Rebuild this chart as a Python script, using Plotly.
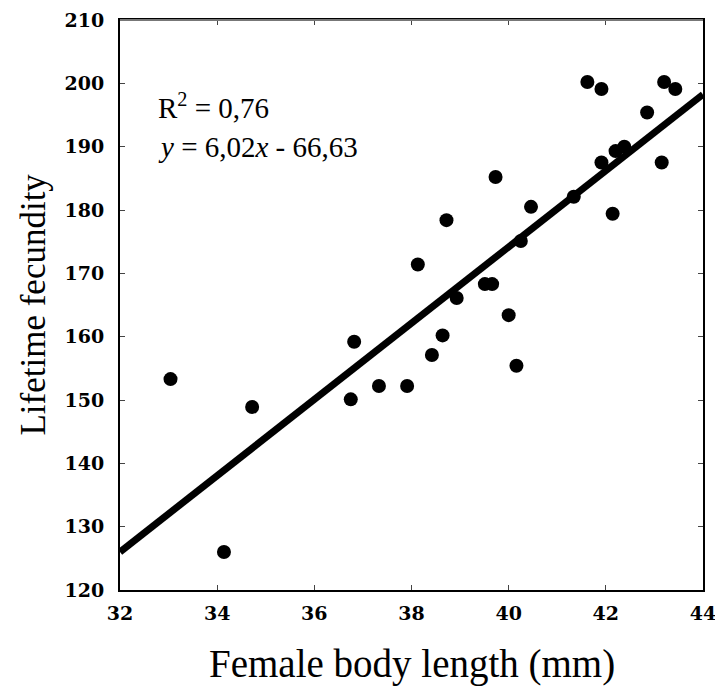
import plotly.graph_objects as go

# Data
body_length = [33.04, 34.14, 34.72, 36.75, 36.82, 37.33, 37.91, 38.13, 38.42, 38.64,
               38.72, 38.93, 39.51, 39.66, 39.73, 40.00, 40.16, 40.25, 40.46, 41.34,
               41.62, 41.91, 41.91, 42.14, 42.20, 42.38, 42.85, 43.15, 43.20, 43.43]
fecundity = [153.3, 126.0, 148.9, 150.1, 159.2, 152.2, 152.2, 171.4, 157.1, 160.2,
             178.4, 166.1, 168.3, 168.3, 185.2, 163.4, 155.4, 175.1, 180.5, 182.1,
             200.2, 199.1, 187.5, 179.4, 189.3, 190.0, 195.4, 187.5, 200.2, 199.1]

slope = 6.02
intercept = -66.63
fit_x = [32, 44]
fit_y = [slope * v + intercept for v in fit_x]

x_ticks = [32, 34, 36, 38, 40, 42, 44]
y_ticks = [120, 130, 140, 150, 160, 170, 180, 190, 200, 210]

fig = go.Figure()
fig.add_trace(go.Scatter(x=fit_x, y=fit_y, mode="lines",
                         line=dict(color="black", width=7), showlegend=False, hoverinfo="skip"))
fig.add_trace(go.Scatter(x=body_length, y=fecundity, mode="markers",
                         marker=dict(color="black", size=14, line=dict(width=0)),
                         showlegend=False))

tick_font = dict(family="DejaVu Serif", size=19, color="black", weight="bold")

fig.update_xaxes(range=[32, 44], tickvals=x_ticks, ticktext=[str(v) for v in x_ticks],
                 showgrid=False, zeroline=False, showline=True, linecolor="black",
                 linewidth=2, mirror="ticks", ticks="inside", ticklen=5, tickwidth=1,
                 tickcolor="#444", tickfont=tick_font, automargin=False,
                 ticklabelstandoff=5, ticklabeloverflow="allow")
fig.update_yaxes(range=[120, 210], tickvals=y_ticks, ticktext=[str(v) for v in y_ticks],
                 showgrid=False, zeroline=False, showline=True, linecolor="black",
                 linewidth=2, mirror="ticks", ticks="inside", ticklen=5, tickwidth=1,
                 tickcolor="#444", tickfont=tick_font, automargin=False,
                 ticklabelstandoff=10, ticklabeloverflow="allow")

# lighter top frame line
fig.add_shape(type="line", xref="paper", yref="paper", x0=0, x1=1, y0=1, y1=1,
              line=dict(color="#777", width=2))

serif = "Liberation Serif"
fig.add_annotation(x=32.75, y=196.4, xref="x", yref="y", text="R<sup>2</sup> = 0,76",
                   showarrow=False, xanchor="left", yanchor="middle",
                   font=dict(family=serif, size=29, color="black"))
fig.add_annotation(x=32.75, y=190.0, xref="x", yref="y",
                   text="<i>y</i> = 6,02<i>x</i> - 66,63",
                   showarrow=False, xanchor="left", yanchor="middle",
                   font=dict(family=serif, size=29, color="black"))

fig.add_annotation(x=0.5, y=-0.13, xref="paper", yref="paper",
                   text="Female body length (mm)", showarrow=False,
                   xanchor="center", yanchor="middle",
                   font=dict(family=serif, size=39, color="black"))
fig.add_annotation(x=-0.15, y=0.5, xref="paper", yref="paper",
                   text="Lifetime fecundity", showarrow=False, textangle=-90,
                   xanchor="center", yanchor="middle",
                   font=dict(family=serif, size=35, color="black"))

fig.update_layout(width=715, height=689, margin=dict(l=120, r=12, t=20, b=99),
                  paper_bgcolor="white", plot_bgcolor="white")

fig.write_html("out.html", config={"displayModeBar": False},
               post_script="document.body.style.margin='0';document.body.style.overflow='hidden';")
